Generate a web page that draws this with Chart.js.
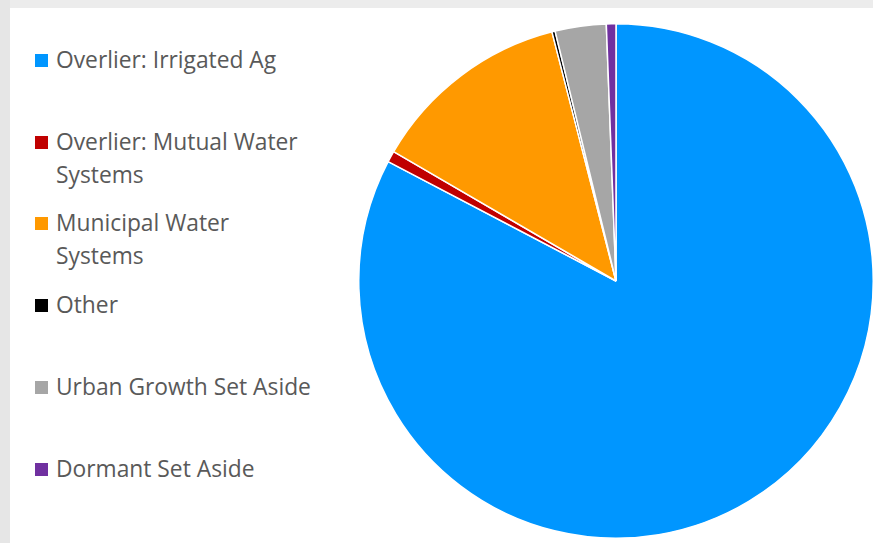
<!DOCTYPE html>
<html>
<head>
<meta charset="utf-8">
<script src="https://cdn.jsdelivr.net/npm/chart.js@4"></script>
<style>
    html, body { margin: 0; padding: 0; }
    body {
        width: 873px;
        height: 543px;
        position: relative;
        overflow: hidden;
        background: #ffffff;
        font-family: "Open Sans", Lato, sans-serif;
    }
    .frame-top { position: absolute; left: 0; top: 0; width: 873px; height: 8px; background: #ececec; }
    .frame-left { position: absolute; left: 0; top: 0; width: 10px; height: 543px; background: #e6e6e6; }
    #pieWrap { position: absolute; left: 358px; top: 23px; width: 516px; height: 516px; }
    .legend-item { position: absolute; left: 35px; color: #595959; font-size: 22.8px; line-height: 33px; }
    .legend-item .box { position: absolute; left: 0; width: 13px; height: 13px; }
    .legend-item .txt { position: absolute; left: 21px; top: 0; white-space: nowrap; }
</style>
</head>
<body>
<div class="frame-top"></div>
<div class="frame-left"></div>
<div id="legend"></div>
<div id="pieWrap"><canvas id="pieChart"></canvas></div>
<script>
const labels = [
    'Overlier: Irrigated Ag',
    'Overlier: Mutual Water Systems',
    'Municipal Water Systems',
    'Other',
    'Urban Growth Set Aside',
    'Dormant Set Aside'
];
// legend lines as they wrap in the picture
const legendLines = [
    ['Overlier: Irrigated Ag'],
    ['Overlier: Mutual Water', 'Systems'],
    ['Municipal Water', 'Systems'],
    ['Other'],
    ['Urban Growth Set Aside'],
    ['Dormant Set Aside']
];
const shares = [82.6, 0.7, 12.6, 0.2, 3.2, 0.6];
const colors = ['#0096ff', '#c00000', '#ff9900', '#000000', '#a6a6a6', '#7030a0'];

function buildLegend() {
    const legend = document.getElementById('legend');
    // top of the first line of each entry
    const rowTops = [43, 125, 206, 288, 370, 452];
    legendLines.forEach((lines, i) => {
        const item = document.createElement('div');
        item.className = 'legend-item';
        item.style.top = rowTops[i] + 'px';
        const box = document.createElement('div');
        box.className = 'box';
        box.style.background = colors[i];
        box.style.top = '11px';
        const txt = document.createElement('div');
        txt.className = 'txt';
        txt.innerHTML = lines.join('<br>');
        item.appendChild(box);
        item.appendChild(txt);
        legend.appendChild(item);
    });
}

function renderPie() {
    const ctx = document.getElementById('pieChart').getContext('2d');
    new Chart(ctx, {
        type: 'pie',
        data: {
            labels: labels,
            datasets: [{
                data: shares,
                backgroundColor: colors,
                borderColor: '#ffffff',
                borderWidth: 1.5
            }]
        },
        options: {
            responsive: true,
            maintainAspectRatio: false,
            animation: false,
            layout: { padding: 0 },
            plugins: {
                legend: { display: false },
                tooltip: { enabled: false }
            }
        }
    });
}

buildLegend();
renderPie();
</script>
</body>
</html>
